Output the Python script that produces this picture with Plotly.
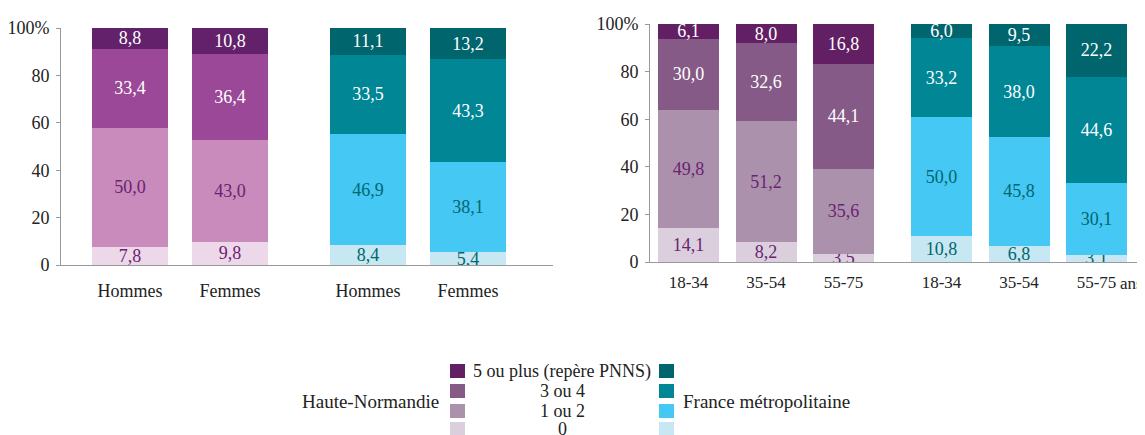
import plotly.graph_objects as go

# ---------------- data ----------------
levels = ["0", "1 ou 2", "3 ou 4", "5 ou plus (repère PNNS)"]

sex_labels = ["Hommes", "Femmes"]
hn_sex = {"0": [7.8, 9.8], "1 ou 2": [50.0, 43.0], "3 ou 4": [33.4, 36.4], "5 ou plus (repère PNNS)": [8.8, 10.8]}
fr_sex = {"0": [8.4, 5.4], "1 ou 2": [46.9, 38.1], "3 ou 4": [33.5, 43.3], "5 ou plus (repère PNNS)": [11.1, 13.2]}

age_labels = ["18-34", "35-54", "55-75"]
hn_age = {"0": [14.1, 8.2, 3.5], "1 ou 2": [49.8, 51.2, 35.6], "3 ou 4": [30.0, 32.6, 44.1], "5 ou plus (repère PNNS)": [6.1, 8.0, 16.8]}
fr_age = {"0": [10.8, 6.8, 3.1], "1 ou 2": [50.0, 45.8, 30.1], "3 ou 4": [33.2, 38.0, 44.6], "5 ou plus (repère PNNS)": [6.0, 9.5, 22.2]}

yticks = [0, 20, 40, 60, 80, 100]
yticktext = ["0", "20", "40", "60", "80", "100%"]

# ---------------- styles ----------------
FONT = "Liberation Serif, Times New Roman, DejaVu Serif, serif"
purple_left = ["#EDD8EA", "#C98BBB", "#9B4898", "#62216A"]
purple_right = ["#DCCFDD", "#AC91AD", "#855A87", "#621F63"]
teal = ["#C7E7F2", "#45C8F4", "#018696", "#01656E"]
purple_txt = "#6A2370"
teal_txt = "#016670"

# the page body adds an 8px offset; work in window pixels and convert
OFF = 8
W, H = 1145 - OFF, 435 - OFF


def px(x):
    return (x - OFF) / W


def py(y):
    return 1 - (y - OFF) / H


fig = go.Figure()


def fmt(v):
    return f"{v:.1f}".replace(".", ",")


def add_group(data, xs, colors, dark_txt, xa, ya, width):
    for i, lev in enumerate(levels):
        vals = data[lev]
        fig.add_trace(go.Bar(
            x=xs, y=vals, width=width,
            marker=dict(color=colors[i], line=dict(width=0)),
            text=[fmt(v) for v in vals],
            textposition="inside", insidetextanchor="middle",
            constraintext="none", textangle=0,
            textfont=dict(family=FONT, size=18, color=(dark_txt if i < 2 else "white")),
            xaxis=xa, yaxis=ya, showlegend=False, hoverinfo="skip",
        ))


# left chart positions (group gap larger)
gap_l = 1.38
xl_hn = [0, 1]
xl_fr = [gap_l + 1, gap_l + 2]
add_group(hn_sex, xl_hn, purple_left, purple_txt, "x", "y", 0.76)
add_group(fr_sex, xl_fr, teal, teal_txt, "x", "y", 0.76)

gap_r = 1.265
xr_hn = [0, 1, 2]
xr_fr = [2 + gap_r, 3 + gap_r, 4 + gap_r]
add_group(hn_age, xr_hn, purple_right, purple_txt, "x2", "y2", 0.787)
add_group(fr_age, xr_fr, teal, teal_txt, "x2", "y2", 0.787)

axis_font = dict(family=FONT, size=18, color="#222")
axis_font_r = dict(family=FONT, size=17, color="#222")

common_x = dict(showline=True, linecolor="#999", linewidth=1, ticks="",
                showgrid=False, zeroline=False, automargin=False)
common_y = dict(range=[0, 100], tickvals=yticks, ticktext=yticktext,
                showline=True, linecolor="#999", linewidth=1, ticks="outside",
                ticklen=4, tickcolor="#999", showgrid=False, zeroline=False,
                tickfont=axis_font, automargin=False, ticklabelstandoff=3)

fig.update_layout(
    width=W, height=H, barmode="stack",
    margin=dict(l=0, r=0, t=0, b=0, autoexpand=False),
    paper_bgcolor="white", plot_bgcolor="white",
    font=dict(family=FONT, color="#222"),
    xaxis=dict(domain=[px(61), px(553)], range=[-0.69, 4.23],
               tickvals=xl_hn + xl_fr, ticktext=sex_labels + sex_labels,
               anchor="y", ticklabelstandoff=9, tickfont=axis_font, **common_x),
    yaxis=dict(domain=[py(265), py(28)], anchor="x", **common_y),
    xaxis2=dict(domain=[px(650), px(1143)], range=[-0.497, 5.865],
                tickvals=xr_hn + xr_fr, ticktext=age_labels + age_labels,
                anchor="y2", ticklabelstandoff=5, tickfont=axis_font_r, **common_x),
    yaxis2=dict(domain=[py(262), py(24)], anchor="x2", **common_y),
)

# "ans" unit label
fig.add_annotation(x=px(1118), y=py(283), xref="paper", yref="paper",
                   text="ans", showarrow=False, font=axis_font_r,
                   xanchor="left", yanchor="middle")

# ---------------- custom legend ----------------
row_y = [371, 391, 411, 429]  # pixel centres, top to bottom
rev_levels = levels[::-1]
rev_purple = purple_right[::-1]
rev_teal = teal[::-1]
for k, lev in enumerate(rev_levels):
    yc = row_y[k]
    for x0, col in ((450, rev_purple[k]), (659, rev_teal[k])):
        fig.add_shape(type="rect", xref="paper", yref="paper",
                      x0=px(x0), x1=px(x0 + 15),
                      y0=py(yc + 7), y1=py(yc - 7),
                      fillcolor=col, line=dict(width=0))
    fig.add_annotation(x=px(562), y=py(yc), xref="paper", yref="paper",
                       text=lev, showarrow=False, font=axis_font,
                       xanchor="center", yanchor="middle")

side_font = dict(family=FONT, size=19, color="#222")
fig.add_annotation(x=px(300), y=py(401), xref="paper", yref="paper",
                   text="Haute-Normandie", showarrow=False, font=side_font,
                   xanchor="left", yanchor="middle")
fig.add_annotation(x=px(681), y=py(401), xref="paper", yref="paper",
                   text="France métropolitaine", showarrow=False, font=side_font,
                   xanchor="left", yanchor="middle")

fig.write_html("out.html")
